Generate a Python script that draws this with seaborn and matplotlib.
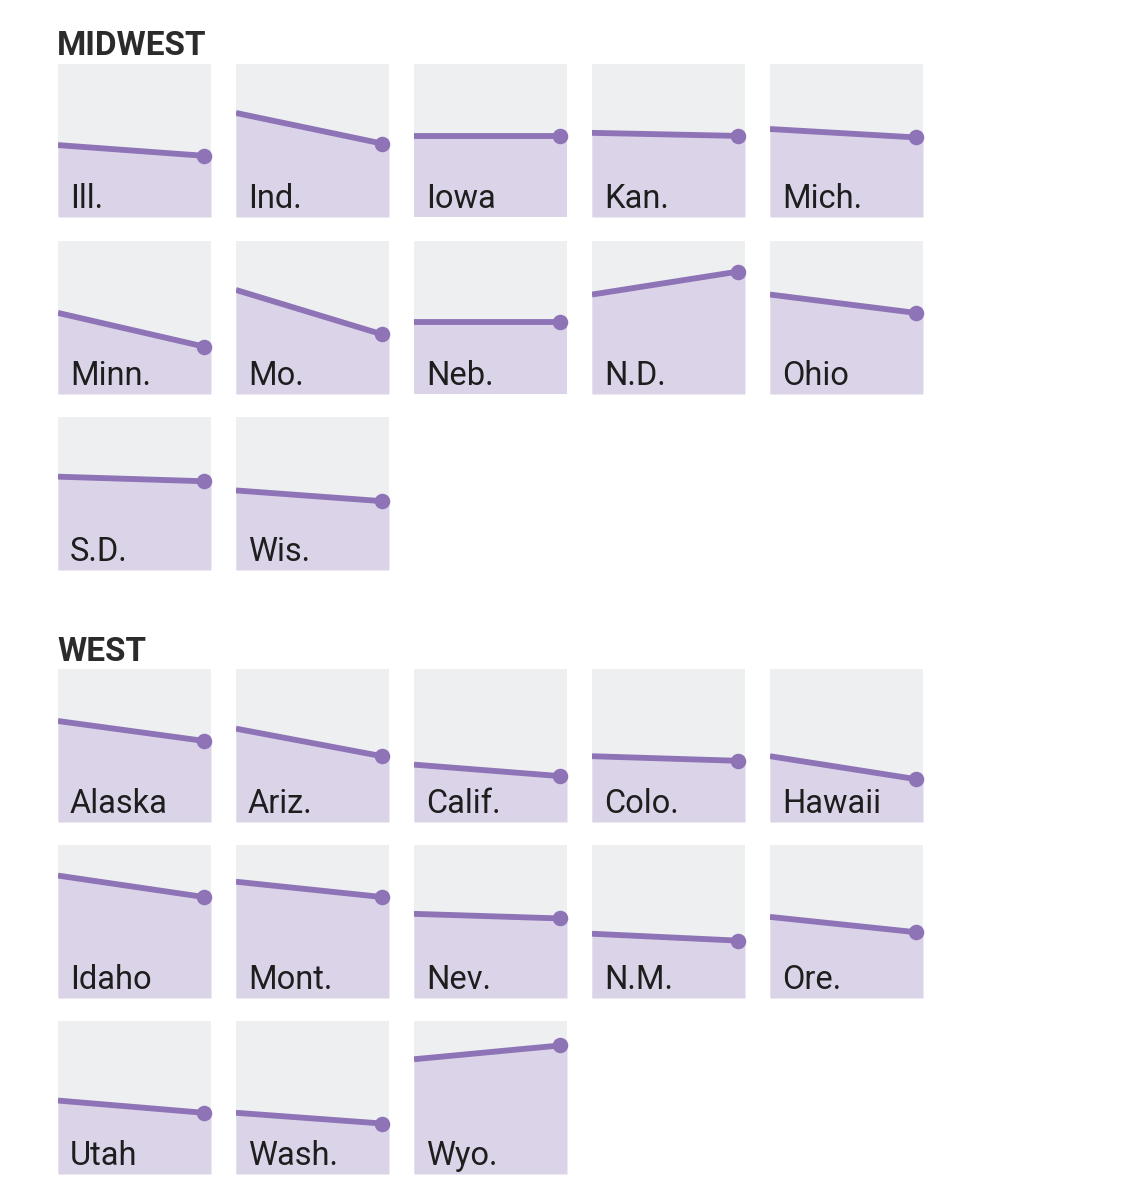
import numpy as np
import pandas as pd
import matplotlib
matplotlib.use("Agg")
import matplotlib.pyplot as plt
import seaborn as sns

# values, as share of panel height (0 = bottom, 1 = top)
midwest_states = ["Ill.", "Ind.", "Iowa", "Kan.", "Mich.",
                  "Minn.", "Mo.", "Neb.", "N.D.", "Ohio",
                  "S.D.", "Wis."]
midwest_start = [0.47, 0.68, 0.53, 0.55, 0.575,
                 0.53, 0.68, 0.47, 0.65, 0.65,
                 0.61, 0.52]
midwest_end = [0.40, 0.48, 0.53, 0.53, 0.52,
               0.31, 0.39, 0.47, 0.80, 0.53,
               0.58, 0.45]

west_states = ["Alaska", "Ariz.", "Calif.", "Colo.", "Hawaii",
               "Idaho", "Mont.", "Nev.", "N.M.", "Ore.",
               "Utah", "Wash.", "Wyo."]
west_start = [0.66, 0.61, 0.375, 0.43, 0.43,
              0.80, 0.76, 0.55, 0.42, 0.53,
              0.48, 0.40, 0.75]
west_end = [0.53, 0.43, 0.30, 0.40, 0.28,
            0.66, 0.66, 0.52, 0.375, 0.43,
            0.40, 0.33, 0.84]

LINE = "#8e73b7"
FILL = "#dbd4e8"
BG = "#eeeff0"
TEXT = "#1e1e1e"

sns.set_theme(style="white")
plt.rcParams["font.family"] = ["Roboto", "DejaVu Sans"]

W, H = 1126, 1200
fig = plt.figure(figsize=(W / 100, H / 100), dpi=100)
fig.patch.set_facecolor("white")

COL_X = [58, 236, 414, 592, 770]
SIZE = 153


def panel(left, top, state, v0, v1):
    ax = fig.add_axes([left / W, 1 - (top + SIZE) / H, SIZE / W, SIZE / H])
    ax.set_facecolor(BG)
    df = pd.DataFrame({"x": [0.0, 1.0], "y": [v0, v1]})
    xmax = SIZE / (SIZE - 7)
    ax.fill_between([0.0, 1.0, xmax], [v0, v1, v1], 0, color=FILL, lw=0)
    sns.lineplot(data=df, x="x", y="y", color=LINE, lw=4.2, ax=ax,
                 solid_capstyle="butt")
    sns.scatterplot(x=[1.0], y=[v1], color=LINE, s=125, linewidth=0,
                    ax=ax, clip_on=False, zorder=5)
    ax.set_xlim(0, xmax)
    ax.set_ylim(0, 1)
    ax.set_xticks([])
    ax.set_yticks([])
    ax.set_xlabel("")
    ax.set_ylabel("")
    for s in ax.spines.values():
        s.set_visible(False)
    ax.text(12 / SIZE, 9 / SIZE, state, transform=ax.transAxes,
            fontsize=23.5, fontweight="normal", color=TEXT,
            ha="left", va="baseline")


def region(title, title_base, row_tops, states, starts, ends):
    fig.text(57 / W, 1 - title_base / H, title, fontsize=24, fontweight="bold",
             color="#2b2b2b", ha="left", va="baseline")
    for i, (st, a, b) in enumerate(zip(states, starts, ends)):
        panel(COL_X[i % 5], row_tops[i // 5], st, a, b)


region("MIDWEST", 55, [64, 241, 417], midwest_states, midwest_start, midwest_end)
region("WEST", 661, [669, 845, 1021], west_states, west_start, west_end)

fig.savefig("out.png", dpi=100, facecolor="white")
